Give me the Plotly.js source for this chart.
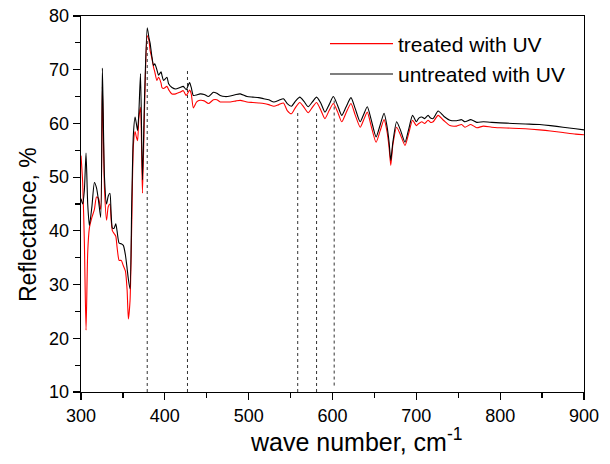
<!DOCTYPE html>
<html>
<head>
<meta charset="utf-8">
<script src="https://cdn.plot.ly/plotly-3.0.1.min.js"></script>
<style>html,body{margin:0;padding:0;background:#fff;}#chart{width:610px;height:464px;}</style>
</head>
<body>
<div id="chart"></div>
<script>
// wave number, cm^-1
const waveNumber = [300,302,304,306,308,310,313,316,318.5,321,323.5,325.5,328,330.5,332.5,334.5,336,337.5,339.5,341.5,343,345.5,348,350.5,353,355,356.5,358.5,360.5,362.5,364.5,366,367.5,369,371,373.3,376,379,381,382.5,384.5,386.5,388,390.5,392.5,395.5,396.5,398.5,402.5,404.5,408.5,413,418,422,425.5,429.5,431.5,434,438,442,447,452,458,462,466,472,478,485,490,498,505,512,518,524,530,536,541.5,546,551,556,561,566,571,576,581,586,591,596,601,606,611,616,622,627,633,637,641.5,646,652,657,661.5,665,667.5,669.5,672,676.5,681,686.5,691,695.5,700,703,706.5,710,714,717,720,726,733,740,748,754,758,765,772,780,790,800,815,830,847,860,875,890,900];
// reflectance, % - untreated with UV (black)
const untreated = [46.0,45.0,47.5,54.5,45.0,41.0,44.5,49.0,48.0,45.5,42.5,70.3,50.0,45.0,46.5,47.0,43.0,40.5,40.5,41.3,40.0,37.7,37.6,37.3,35.5,33.0,31.0,29.2,45.0,58.0,61.2,60.0,58.7,62.0,69.3,49.5,66.0,77.8,76.0,74.9,72.5,70.8,71.1,70.0,69.0,69.6,69.0,68.0,68.6,67.4,66.7,66.4,66.7,66.9,66.3,67.6,66.7,65.2,65.3,65.5,65.4,65.0,65.8,65.6,65.2,65.0,65.1,65.4,65.5,65.0,64.9,64.8,64.6,64.4,64.0,64.3,64.6,63.7,63.2,64.2,64.9,64.1,63.1,64.0,64.9,63.8,62.1,63.5,65.0,63.4,61.5,63.0,64.8,62.8,60.3,61.6,63.1,60.8,57.5,59.8,61.9,59.5,56.5,53.1,56.5,60.3,58.8,56.5,59.0,61.5,60.3,61.0,61.2,60.9,61.5,61.0,60.9,62.3,61.3,60.6,60.5,60.7,60.3,60.7,60.2,60.3,60.2,60.1,60.0,59.9,59.8,59.6,59.3,59.0,58.8];
// reflectance, % - treated with UV (red)
const treated = [54.0,49.0,38.0,21.5,36.0,40.5,42.5,44.0,46.3,46.0,44.0,66.8,48.0,42.0,44.5,45.0,42.0,40.0,39.5,39.0,37.0,34.5,34.5,33.5,32.5,29.0,23.6,27.0,41.0,56.0,58.5,57.5,56.8,61.0,63.0,47.0,64.0,76.3,75.5,73.5,72.2,70.5,69.6,68.0,68.6,67.5,66.7,66.5,66.9,66.3,65.5,65.5,65.8,66.1,65.2,66.2,65.5,62.9,64.0,64.3,64.2,63.7,64.4,64.4,64.0,64.0,64.0,64.2,64.3,64.0,63.9,63.8,63.7,63.5,63.2,63.5,63.8,62.4,61.8,63.0,63.9,63.0,62.0,63.0,63.9,62.5,60.9,62.4,63.7,62.2,60.3,61.9,63.7,61.6,59.3,60.6,62.1,59.6,56.5,58.7,60.7,58.5,55.5,52.2,56.0,59.3,57.9,55.9,58.2,60.6,59.6,60.0,60.3,60.0,60.6,60.2,60.3,61.5,60.5,59.6,59.5,59.8,59.3,59.8,59.2,59.5,59.3,59.2,59.1,59.0,58.8,58.6,58.3,58.0,57.9];
// dotted marker lines
const markerX = [379, 427, 558.5, 581, 602];
const markerTop = [75.5, 69.8, 62.1, 61.9, 64.3];
const markerBottom = [10, 10, 10, 10, 11.2];
const seriesNames = ["treated with UV", "untreated with UV"];
const xTitle = "wave number, cm<sup>-1</sup>";
const yTitle = "Reflectance, %";

const traces = [];
for (let i = 0; i < markerX.length; i++) {
  traces.push({
    x: [markerX[i], markerX[i]], y: [markerBottom[i], markerTop[i]],
    mode: "lines", showlegend: false, hoverinfo: "skip",
    line: {color: "#333333", width: 1, dash: "dot"}
  });
}
traces.push({x: waveNumber, y: treated, name: seriesNames[0], legendgroup: "t", mode: "lines",
  line: {color: "#ff0000", width: 1.1, shape: "spline", smoothing: 0.6}});
traces.push({x: waveNumber, y: untreated, name: seriesNames[1], legendgroup: "u", mode: "lines",
  line: {color: "#000000", width: 1.1, shape: "spline", smoothing: 0.6}});

const fontFam = "Liberation Sans, Arial, sans-serif";
const L = 81, R = 26, T = 16, B = 72, W = 610, H = 464;
const plotW = W - L - R, plotH = H - T - B;
const px2x = p => (p - L) / plotW;
const px2y = p => (H - B - p) / plotH;

const layout = {
  width: W, height: H,
  margin: {l: L, r: R, t: T, b: B},
  paper_bgcolor: "#ffffff", plot_bgcolor: "#ffffff",
  font: {family: fontFam, color: "#000", size: 18},
  showlegend: true,
  legend: {x: px2x(325), y: 0.98, xanchor: "left", yanchor: "top", bgcolor: "rgba(0,0,0,0)",
    font: {size: 21, family: fontFam}, itemwidth: 63, tracegroupgap: 0},
  xaxis: {
    range: [300, 900], dtick: 100, tick0: 300,
    showgrid: false, zeroline: false,
    showline: true, linecolor: "#000", linewidth: 1.3, mirror: true,
    ticks: "outside", ticklen: 7, tickwidth: 1.2, tickcolor: "#000",
    minor: {dtick: 50, ticks: "outside", ticklen: 5, tickwidth: 1.2, tickcolor: "#000", showgrid: false},
    tickfont: {size: 18, family: fontFam},
    automargin: false
  },
  yaxis: {
    range: [10, 80], dtick: 10, tick0: 10,
    showgrid: false, zeroline: false,
    showline: true, linecolor: "#000", linewidth: 1.3, mirror: true,
    ticks: "outside", ticklen: 7, tickwidth: 1.2, tickcolor: "#000",
    minor: {dtick: 5, ticks: "outside", ticklen: 5, tickwidth: 1.2, tickcolor: "#000", showgrid: false},
    tickfont: {size: 18, family: fontFam},
    automargin: false
  },
  annotations: [
    {text: xTitle, xref: "paper", yref: "paper", x: px2x(356), y: px2y(440),
     xanchor: "center", yanchor: "middle", showarrow: false,
     font: {size: 25, family: fontFam, color: "#000"}},
    {text: yTitle, xref: "paper", yref: "paper", x: px2x(28), y: px2y(225),
     xanchor: "center", yanchor: "middle", showarrow: false, textangle: -90,
     font: {size: 23, family: fontFam, color: "#000"}}
  ]
};
Plotly.newPlot("chart", traces, layout, {displayModeBar: false, staticPlot: true});
</script>
</body>
</html>
